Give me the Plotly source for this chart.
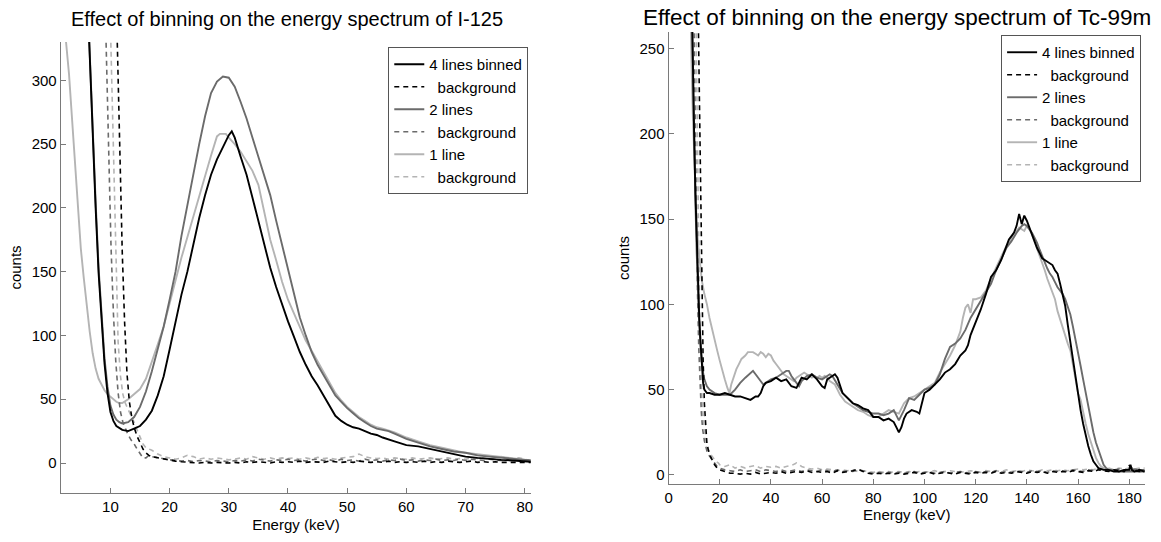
import plotly.graph_objects as go

# ---------------- I-125 spectrum (left panel) ----------------
# (energy keV, counts)
i125_4lines = [
    (6.0, 380), (6.5, 315), (7, 260), (7.5, 200), (8, 149), (8.5, 110), (9, 78), (9.5, 55),
    (10, 40), (10.5, 33), (11, 29), (12, 26), (13, 25), (14, 27), (15, 29), (16, 34),
    (17, 41), (18, 53), (19, 68), (20, 89), (21, 110), (22, 132), (23, 150), (24, 172),
    (25, 192), (26, 210), (27, 226), (28, 238), (29, 248), (30, 257), (30.5, 260), (31, 255),
    (32, 240), (33, 226), (34, 208), (35, 189), (36, 170), (37, 153), (38, 138), (39, 124),
    (40, 111), (41, 99), (42, 87), (43, 77), (44, 68), (45, 61), (46, 53), (47, 45),
    (48, 37), (49, 33), (50, 30), (51, 28), (52, 27), (53, 25), (54, 23), (55, 22),
    (56, 20), (58, 17), (60, 14), (62, 13), (64, 11), (66, 9), (68, 7), (70, 5),
    (72, 4), (74, 3), (76, 2.5), (78, 2), (80, 1.5), (81, 1),
]
i125_2lines = [
    (6.0, 380), (6.5, 318), (7, 262), (7.5, 205), (8, 153), (8.5, 113), (9, 82), (9.5, 60),
    (10, 45), (10.5, 38), (11, 34), (11.5, 32), (12, 31), (13, 32), (14, 36), (15, 44),
    (16, 56), (17, 72), (18, 89), (19, 107), (20, 128), (21, 150), (22, 178), (23, 203),
    (24, 228), (25, 250), (26, 272), (27, 290), (28, 299), (29, 303), (30, 302), (31, 295),
    (32, 283), (33, 270), (34, 255), (35, 240), (36, 224), (37, 210), (38, 190), (39, 171),
    (40, 152), (41, 132), (42, 114), (43, 100), (44, 87), (45, 77), (46, 69), (47, 61),
    (48, 53), (49, 48), (50, 43), (51, 39), (52, 35), (53, 32), (54, 29), (55, 27),
    (56, 26), (57, 25), (58, 23), (60, 19), (62, 16), (64, 13), (66, 11), (68, 9),
    (70, 8), (72, 6), (74, 5), (76, 4), (78, 3), (80, 2), (81, 2),
]
i125_1line = [
    (2, 345), (2.5, 330), (3, 305), (3.5, 270), (4, 232), (4.5, 198), (5, 168), (5.5, 145),
    (6, 122), (6.5, 103), (7, 86), (7.5, 74), (8, 66), (8.5, 61), (9, 57), (9.5, 54),
    (10, 52), (10.5, 50), (11, 48), (11.5, 47), (12, 47), (13, 50), (14, 54), (15, 58),
    (16, 66), (17, 79), (18, 93), (19, 107), (20, 124), (21, 143), (22, 161), (23, 177),
    (24, 194), (25, 211), (26, 226), (27, 241), (28, 256), (28.5, 258), (29, 258), (29.5, 258),
    (30, 255), (31, 250), (32, 244), (33, 236), (34, 229), (35, 218), (36, 196), (37, 175),
    (38, 159), (39, 142), (40, 128), (41, 117), (42, 106), (43, 96), (44, 88), (45, 80),
    (46, 72), (47, 63), (48, 55), (49, 49), (50, 44), (51, 40), (52, 36), (53, 33),
    (54, 30), (55, 28), (56, 27), (58, 24), (60, 20), (62, 17), (64, 14), (66, 12),
    (68, 10), (70, 8), (72, 7), (74, 6), (76, 5), (78, 4), (80, 3), (81, 2),
]

# background runs: steep low-energy edge, then the flat baseline sampled every keV
i125_bg4_edge = [
    (10.8, 400), (11.2, 320), (11.6, 240), (12, 165), (12.4, 110), (12.8, 70), (13.2, 48),
    (13.6, 36), (14, 28), (14.5, 21), (15, 16), (15.5, 11), (16, 8), (16.5, 6), (17, 5),
]
i125_bg2_edge = [
    (8.9, 400), (9.3, 320), (9.7, 240), (10.1, 170), (10.5, 118), (10.9, 80), (11.3, 55),
    (11.7, 40), (12.1, 32), (12.5, 27), (13, 22), (13.5, 18), (14, 15), (14.5, 11),
    (15, 7), (15.5, 4), (16, 4), (16.5, 6), (17, 5),
]
i125_bg1_edge = [
    (9.7, 400), (10.1, 320), (10.5, 230), (10.9, 150), (11.3, 95), (11.7, 68), (12.1, 54),
    (12.5, 47), (13, 42), (13.5, 38), (14, 32), (14.5, 26), (15, 20), (15.5, 15), (16, 12),
    (16.5, 11), (17, 10),
]
i125_bg_energy = list(range(18, 82))
i125_bg4_counts = [
    4, 3, 2, 1.5, 1, 0.5, 0.5, 0, 0.5, 0, 0.5, 0, 0, 0.5, 0, 1,
    0.5, 1, 0.5, 0, 1, 0.5, 1, 0.5, 1.5, 0.5, 1, 1, 0.5, 1.5, 1, 0.5,
    1, 0.5, 1.5, 1, 0.5, 1, 0.5, 1.5, 0.5, 1, 0.5, 1, 0.5, 1.5, 0.5, 1,
    0.5, 1.5, 1, 0.5, 1, 1.5, 0.5, 1, 0.5, 1, 0.5, 0.5, 1, 0.5, 0.5, 0.5,
]
i125_bg2_counts = [
    4, 3, 2.5, 2, 1.5, 2, 1, 2, 1.5, 1, 2, 1.5, 1, 2, 1.5, 2.5,
    1.5, 3, 2, 1.5, 2.5, 2, 3, 2, 2.5, 1.5, 2.5, 3, 2, 2.5, 1.5, 3,
    2, 2.5, 1.5, 3, 2, 2.5, 1.5, 2.5, 2, 3, 2, 2.5, 1.5, 2.5, 2, 3,
    2, 2.5, 2, 3, 2, 3, 2.5, 2, 3, 2.5, 2, 2.5, 2, 2.5, 2, 2,
]
i125_bg1_counts = [
    7, 5, 4, 3, 4, 6, 5, 3, 4, 3, 4, 3, 2.5, 3, 4, 3,
    5, 4, 3, 4, 3, 4, 3.5, 4, 3, 4, 3, 4.5, 3.5, 4, 3, 4,
    4.5, 5, 7, 5, 4, 3.5, 4, 3, 4, 3.5, 3, 4, 3, 3.5, 4, 3,
    3.5, 4, 3, 3.5, 3, 4, 3.5, 4, 3, 4, 5, 4, 3.5, 4, 3, 2,
]

# ---------------- Tc-99m spectrum (right panel) ----------------
tc_4lines = [
    (8.5, 330), (9, 280), (9.5, 240), (10, 200), (10.5, 165), (11, 135), (11.5, 110), (12, 92),
    (12.5, 78), (13, 63), (13.5, 54), (14, 50), (15, 48), (16, 48), (18, 47), (20, 47),
    (22, 48), (24, 47), (26, 46), (28, 46), (30, 45), (32, 44), (34, 46), (35, 46),
    (36, 48), (37, 52), (38, 54), (40, 55), (42, 57), (44, 55), (46, 56), (48, 52),
    (50, 51), (51, 54), (52, 57), (54, 56), (56, 59), (58, 56), (60, 52), (61, 51),
    (62, 56), (64, 58), (65, 59), (66, 57), (67, 52), (68, 48), (70, 45), (72, 42),
    (74, 41), (76, 39), (78, 38), (80, 34), (82, 34), (84, 32), (86, 33), (88, 31),
    (89, 28), (90, 25), (91, 28), (92, 33), (93, 36), (95, 38), (97, 37), (98, 36),
    (99, 42), (100, 48), (102, 50), (104, 53), (106, 56), (108, 60), (110, 62), (112, 65),
    (114, 70), (116, 73), (117, 76), (118, 82), (120, 89), (122, 97), (124, 106), (126, 116),
    (128, 120), (130, 126), (131, 130), (132, 134), (133, 138), (134, 140), (135, 142), (136, 146),
    (137, 153), (138, 147), (139, 152), (140, 149), (141, 145), (142, 140), (143, 136), (144, 133),
    (145, 130), (146, 127), (147, 126), (148, 125), (149, 124), (150, 123), (151, 120), (152, 118),
    (153, 112), (154, 105), (155, 99), (156, 88), (157, 78), (158, 67), (159, 56), (160, 47),
    (161, 38), (162, 30), (163, 23), (164, 17), (165, 12), (166, 8), (167, 6), (168, 4),
    (170, 3), (172, 3), (174, 2), (176, 2), (178, 3), (180, 3), (180.5, 6), (181, 3),
    (182, 2), (184, 3), (186, 2),
]
tc_2lines = [
    (8.5, 320), (9, 275), (9.5, 235), (10, 195), (10.5, 160), (11, 130), (11.5, 105), (12, 88),
    (12.5, 75), (13, 65), (13.5, 60), (14, 56), (15, 52), (16, 50), (18, 48), (20, 47),
    (22, 47), (24, 47), (26, 50), (28, 54), (30, 57), (32, 60), (33, 61), (34, 59),
    (36, 55), (37, 53), (38, 54), (40, 56), (42, 57), (44, 59), (46, 61), (47, 61),
    (48, 58), (50, 54), (51, 52), (52, 55), (54, 58), (56, 59), (58, 57), (60, 56),
    (62, 58), (63, 59), (64, 58), (66, 53), (68, 48), (70, 45), (72, 42), (74, 40),
    (76, 38), (78, 37), (80, 36), (82, 36), (84, 35), (86, 36), (88, 38), (90, 32),
    (92, 38), (94, 45), (96, 44), (98, 47), (100, 50), (102, 51), (104, 53), (106, 59),
    (108, 68), (110, 75), (112, 77), (114, 80), (116, 85), (118, 92), (120, 97), (122, 102),
    (124, 107), (126, 112), (128, 120), (130, 127), (132, 133), (134, 137), (136, 142), (138, 146),
    (139, 147), (140, 146), (141, 144), (142, 142), (143, 139), (144, 136), (145, 132), (146, 128),
    (147, 124), (148, 121), (149, 118), (150, 116), (151, 113), (152, 110), (153, 108), (154, 106),
    (155, 103), (156, 98), (157, 94), (158, 87), (159, 80), (160, 73), (161, 64), (162, 56),
    (163, 48), (164, 39), (165, 32), (166, 25), (167, 19), (168, 15), (169, 10), (170, 6),
    (171, 4), (172, 3), (174, 3), (176, 2), (178, 2), (180, 2), (182, 2), (184, 2), (186, 2),
]
tc_1line = [
    (8, 330), (8.5, 280), (9, 240), (9.5, 210), (10, 185), (10.5, 165), (11, 148), (11.5, 136),
    (12, 127), (12.5, 120), (13, 114), (14, 106), (15, 100), (16, 92), (17, 85), (18, 79),
    (19, 73), (20, 67), (21, 61), (22, 56), (23, 51), (23.8, 48), (24.5, 53), (25.5, 58),
    (26.5, 62), (27.5, 65), (28.5, 68), (30, 70), (31, 72), (32, 72), (33, 72), (34, 71),
    (35, 70), (36, 72), (37, 71), (38, 69), (39, 71), (40, 70), (41, 67), (42, 65),
    (43, 63), (44, 61), (45, 59), (46, 58), (47, 57), (48, 56), (49, 55), (50, 57),
    (51, 58), (52, 59), (53, 60), (54, 59), (55, 58), (56, 57), (57, 58), (58, 57),
    (59, 58), (60, 57), (61, 58), (62, 57), (63, 55), (64, 54), (65, 53), (66, 50),
    (67, 47), (68, 45), (69, 43), (70, 42), (72, 40), (74, 38), (76, 37), (78, 35),
    (80, 34), (82, 34), (84, 36), (86, 38), (88, 37), (90, 36), (92, 42), (94, 45),
    (96, 46), (98, 48), (100, 50), (102, 52), (104, 54), (106, 60), (108, 65), (110, 70),
    (112, 76), (114, 84), (115, 92), (116, 98), (117, 100), (118, 95), (119, 103), (120, 103),
    (122, 104), (124, 108), (126, 115), (128, 122), (130, 128), (132, 134), (134, 139), (136, 143),
    (137, 145), (138, 144), (139, 143), (140, 146), (141, 144), (142, 141), (143, 137), (144, 133),
    (145, 128), (146, 124), (147, 120), (148, 115), (149, 111), (150, 107), (151, 103), (152, 96),
    (153, 91), (154, 87), (155, 82), (156, 77), (157, 73), (158, 65), (159, 56), (160, 48),
    (161, 44), (162, 36), (163, 30), (164, 24), (165, 19), (166, 14), (167, 10), (168, 7),
    (169, 5), (170, 4), (172, 3), (174, 3), (176, 2), (178, 3), (180, 3), (182, 2),
    (184, 3), (186, 2),
]

tc_bg4_edge = [
    (11.5, 280), (12, 225), (12.5, 165), (13, 110), (13.5, 68), (14, 42), (14.5, 27),
    (15, 18), (16, 12), (17, 9), (18, 6), (19, 4),
]
tc_bg2_edge = [
    (9.8, 280), (10.3, 215), (10.8, 155), (11.3, 108), (11.8, 75), (12.3, 52), (12.8, 37),
    (13.3, 27), (14, 20), (15, 14), (16, 11), (17, 9), (18, 7), (19, 5),
]
tc_bg1_edge = [
    (10.6, 280), (11.1, 210), (11.6, 150), (12.1, 100), (12.6, 66), (13.1, 44), (13.8, 29),
    (14.5, 21), (15.5, 15), (16.5, 12), (17.5, 10), (18.5, 8), (19.5, 7),
]
tc_bg_energy = list(range(20, 188, 2))
tc_bg4_counts = [
    3, 2, 1, 1, 0.5, 1, 0.5, 1.5, 0.5, 1, 1.5, 1, 2, 1, 1.5, 2,
    1.5, 2.5, 1.5, 2, 1.5, 2, 1, 2.5, 1.5, 2, 2.5, 3.5, 2, 1, 0.5, 1,
    0.5, 1, 0.5, 1, 0.5, 1, 1.5, 0.5, 1, 1.5, 0.5, 1, 1.5, 1, 0.5, 1.5,
    1, 0.5, 1.5, 1, 1.5, 1, 2, 1, 1.5, 1, 2, 1.5, 1, 2, 1.5, 2,
    1, 2, 1.5, 2, 1.5, 2.5, 2, 1.5, 2.5, 2, 3, 2.5, 2, 3, 2.5, 2,
    5.5, 2.5, 2, 2.5,
]
tc_bg2_counts = [
    4, 3, 2.5, 2, 3, 2, 2.5, 3, 2, 3, 2.5, 2, 3, 2, 2.5, 3,
    2, 3, 2.5, 2, 3, 2.5, 2, 3, 2, 2.5, 2, 3, 2.5, 1.5, 1, 1.5,
    1, 1.5, 1, 1.5, 1, 1.5, 2, 1, 1.5, 2, 1, 1.5, 2, 1, 1.5, 2,
    1.5, 1, 2, 1.5, 2, 1.5, 2.5, 1.5, 2, 1.5, 2.5, 2, 1.5, 2.5, 2, 2.5,
    1.5, 2.5, 2, 2.5, 2, 3, 2.5, 2, 3, 2.5, 3.5, 3, 2.5, 3, 3.5, 2.5,
    3, 3.5, 3, 3,
]
tc_bg1_counts = [
    6, 5, 6, 4, 5, 4, 5, 5.5, 4, 5, 4.5, 5, 4, 5, 5.5, 7,
    5, 4, 3.5, 4, 3, 3.5, 3, 2.5, 3, 2.5, 3, 2, 2.5, 2, 1.5, 2,
    1.5, 2, 1.5, 2, 1.5, 2, 1.5, 2, 1.5, 2, 2.5, 1.5, 2, 2.5, 2, 1.5,
    2, 2.5, 2, 1.5, 2.5, 2, 2.5, 2, 3, 2, 2.5, 2, 3, 2.5, 2, 3,
    2.5, 3, 2.5, 3, 2.5, 3, 3.5, 3, 3.5, 3, 4, 3.5, 4, 3, 4, 3.5,
    4, 3.5, 4, 4,
]

# ---------------- styling ----------------
FONT = "Liberation Sans, Arial, Helvetica, sans-serif"
BLACK = "#000000"
DARK = "#6b6b6b"
LIGHT = "#b4b4b4"
AXIS = "#7a7a7a"
DASH = "5px,4px"


def split(pairs):
    return [p[0] for p in pairs], [p[1] for p in pairs]


def background(edge, energy, counts):
    e, c = split(edge)
    return e + list(energy), c + list(counts)


fig = go.Figure()


def add_panel(xa, ya, legend, solid4, solid2, solid1, bg4, bg2, bg1):
    # light series first so the black one is drawn on top; legend order reversed
    series = [
        (bg1, LIGHT, DASH, 1.6, "\u00a0\u00a0background"),
        (split(solid1), LIGHT, "solid", 1.9, "1 line"),
        (bg2, DARK, DASH, 1.6, "\u00a0\u00a0background"),
        (split(solid2), DARK, "solid", 1.9, "2 lines"),
        (bg4, BLACK, DASH, 1.6, "\u00a0\u00a0background"),
        (split(solid4), BLACK, "solid", 1.9, "4 lines binned"),
    ]
    for k, ((x, y), color, dash, width, name) in enumerate(series):
        fig.add_trace(go.Scatter(
            x=x, y=y, mode="lines", name=name,
            line=dict(color=color, width=width, dash=dash),
            xaxis=xa, yaxis=ya, legend=legend, legendgroup=f"{legend}{k}",
            hoverinfo="skip",
        ))


add_panel("x", "y", "legend", i125_4lines, i125_2lines, i125_1line,
          background(i125_bg4_edge, i125_bg_energy, i125_bg4_counts),
          background(i125_bg2_edge, i125_bg_energy, i125_bg2_counts),
          background(i125_bg1_edge, i125_bg_energy, i125_bg1_counts))
add_panel("x2", "y2", "legend2", tc_4lines, tc_2lines, tc_1line,
          background(tc_bg4_edge, tc_bg_energy, tc_bg4_counts),
          background(tc_bg2_edge, tc_bg_energy, tc_bg2_counts),
          background(tc_bg1_edge, tc_bg_energy, tc_bg1_counts))

W, H = 1161, 542

axis_common = dict(
    showline=True, linecolor=AXIS, linewidth=1, mirror=False,
    ticks="inside", ticklen=5, tickcolor=AXIS, tickwidth=1,
    showgrid=False, zeroline=False,
    tickfont=dict(family=FONT, size=15, color="#000"),
    title_font=dict(family=FONT, size=15, color="#000"),
)

legend_common = dict(
    font=dict(family=FONT, size=15, color="#000"),
    bgcolor="#ffffff", bordercolor="#555555", borderwidth=1,
    traceorder="reversed", tracegroupgap=1, itemwidth=30,
    xanchor="right", yanchor="top", itemclick=False, itemdoubleclick=False,
)

fig.update_layout(
    width=W, height=H,
    margin=dict(l=0, r=0, t=0, b=0),
    paper_bgcolor="white", plot_bgcolor="white",
    font=dict(family=FONT, color="#000"),
    xaxis=dict(domain=[57 / W, 530 / W], anchor="y", range=[1.6, 81.1],
               tickvals=[10, 20, 30, 40, 50, 60, 70, 80],
               title=dict(text="Energy (keV)", standoff=5), **axis_common),
    yaxis=dict(domain=[1 - 493 / H, 1 - 42 / H], anchor="x", range=[-23.5, 330],
               tickvals=[0, 50, 100, 150, 200, 250, 300],
               title=dict(text="counts", standoff=6), **axis_common),
    xaxis2=dict(domain=[668 / W, 1147 / W], anchor="y2", range=[0, 186.2],
                tickvals=[0, 20, 40, 60, 80, 100, 120, 140, 160, 180],
                title=dict(text="Energy (keV)", standoff=4), **axis_common),
    yaxis2=dict(domain=[1 - 484 / H, 1 - 32 / H], anchor="x2", range=[-5.3, 259.6],
                tickvals=[0, 50, 100, 150, 200, 250],
                title=dict(text="counts", standoff=6), **axis_common),
    legend=dict(x=527 / W, y=1 - 47 / H, **legend_common),
    legend2=dict(x=1143 / W, y=1 - 35 / H, **legend_common),
    annotations=[
        dict(text="Effect of binning on the energy spectrum of I-125",
             x=284 / W, y=1 - 19 / H, xref="paper", yref="paper",
             xanchor="center", yanchor="middle", showarrow=False,
             font=dict(family=FONT, size=20, color="#000")),
        dict(text="Effect of binning on the energy spectrum of Tc-99m",
             x=898 / W, y=1 - 17 / H, xref="paper", yref="paper",
             xanchor="center", yanchor="middle", showarrow=False,
             font=dict(family=FONT, size=22.5, color="#000")),
    ],
)

fig.write_html("out.html")
